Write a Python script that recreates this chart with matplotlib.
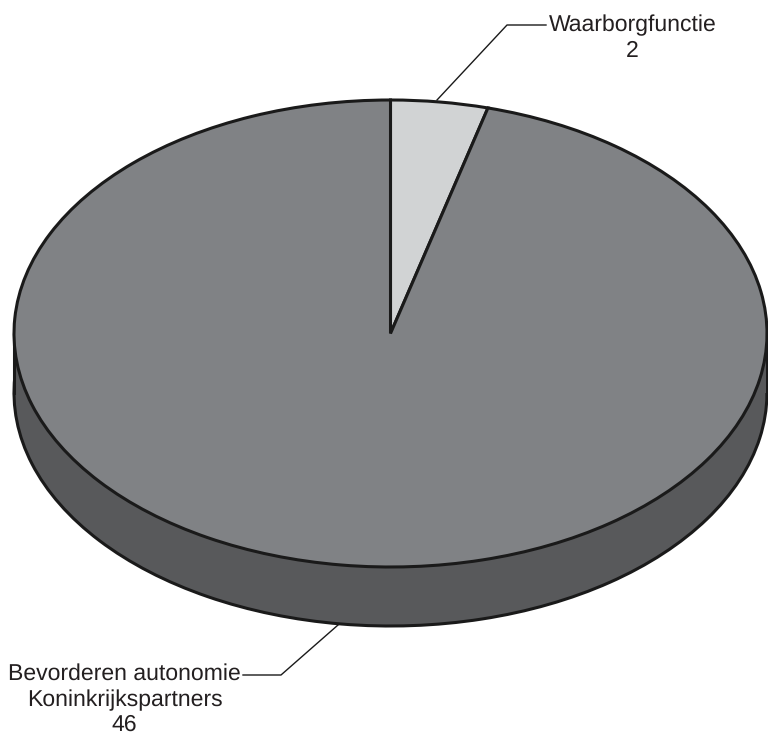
import matplotlib
matplotlib.use("Agg")
import matplotlib.pyplot as plt
from matplotlib.patches import Rectangle

plt.rcParams['font.family'] = ['Liberation Sans', 'DejaVu Sans']
plt.rcParams['text.hinting'] = 'no_hinting'
plt.rcParams['text.hinting_factor'] = 1

categories = ["Waarborgfunctie", "Bevorderen autonomie\nKoninkrijkspartners"]
values = [2, 46]
top_colors = ["#d1d3d4", "#808285"]
side_color = "#58595b"
edge = "#1a1a1a"

W, H = 768, 736
cx, cy, rx, ry, depth = 390.5, 333.5, 376.5, 233.5, 59

fig = plt.figure(figsize=(W/100, H/100), dpi=100)
ax = fig.add_axes([0, 0, 1, 1])

# side of the disc
ax.pie(values, radius=1, center=(0, -depth/ry), startangle=90, counterclock=False,
       colors=[side_color, side_color], wedgeprops=dict(edgecolor=edge, linewidth=2.2), frame=True)
ax.add_patch(Rectangle((-1, -depth/ry), 2, depth/ry, facecolor=side_color, edgecolor='none', zorder=2))
ax.plot([-1, -1], [-depth/ry, 0], color=edge, lw=2.2, zorder=2.5)
ax.plot([1, 1], [-depth/ry, 0], color=edge, lw=2.2, zorder=2.5)
# top of the disc
wedges, _ = ax.pie(values, radius=1, center=(0, 0), startangle=90, counterclock=False,
       colors=top_colors, wedgeprops=dict(edgecolor=edge, linewidth=2.2), frame=True)
for w in wedges:
    w.set_zorder(3)

ax.set_aspect('auto')
ax.set_xlim(-cx/rx, (W-cx)/rx)
ax.set_ylim(-(H-cy)/ry, cy/ry)
ax.axis('off')

def X(p): return (p-cx)/rx
def Y(p): return (cy-p)/ry

# leader lines
ax.plot([X(437), X(507), X(546)], [Y(100), Y(25), Y(25)], color=edge, lw=1.0, zorder=4)
ax.plot([X(338), X(281), X(243)], [Y(625), Y(675), Y(675)], color=edge, lw=1.0, zorder=4)

txt = "#231f20"
fs = 16.3
ax.text(X(632.5), Y(25), categories[0], ha='center', va='center', fontsize=fs, color=txt)
ax.text(X(632.5), Y(51), str(values[0]), ha='center', va='center', fontsize=fs, color=txt)
l = categories[1].split("\n")
ax.text(X(124.5), Y(674), l[0], ha='center', va='center', fontsize=fs, color=txt)
ax.text(X(124.5), Y(700), l[1], ha='center', va='center', fontsize=fs, color=txt)
ax.text(X(124.5), Y(725), str(values[1]), ha='center', va='center', fontsize=fs, color=txt)

fig.savefig("out.png", dpi=100)
